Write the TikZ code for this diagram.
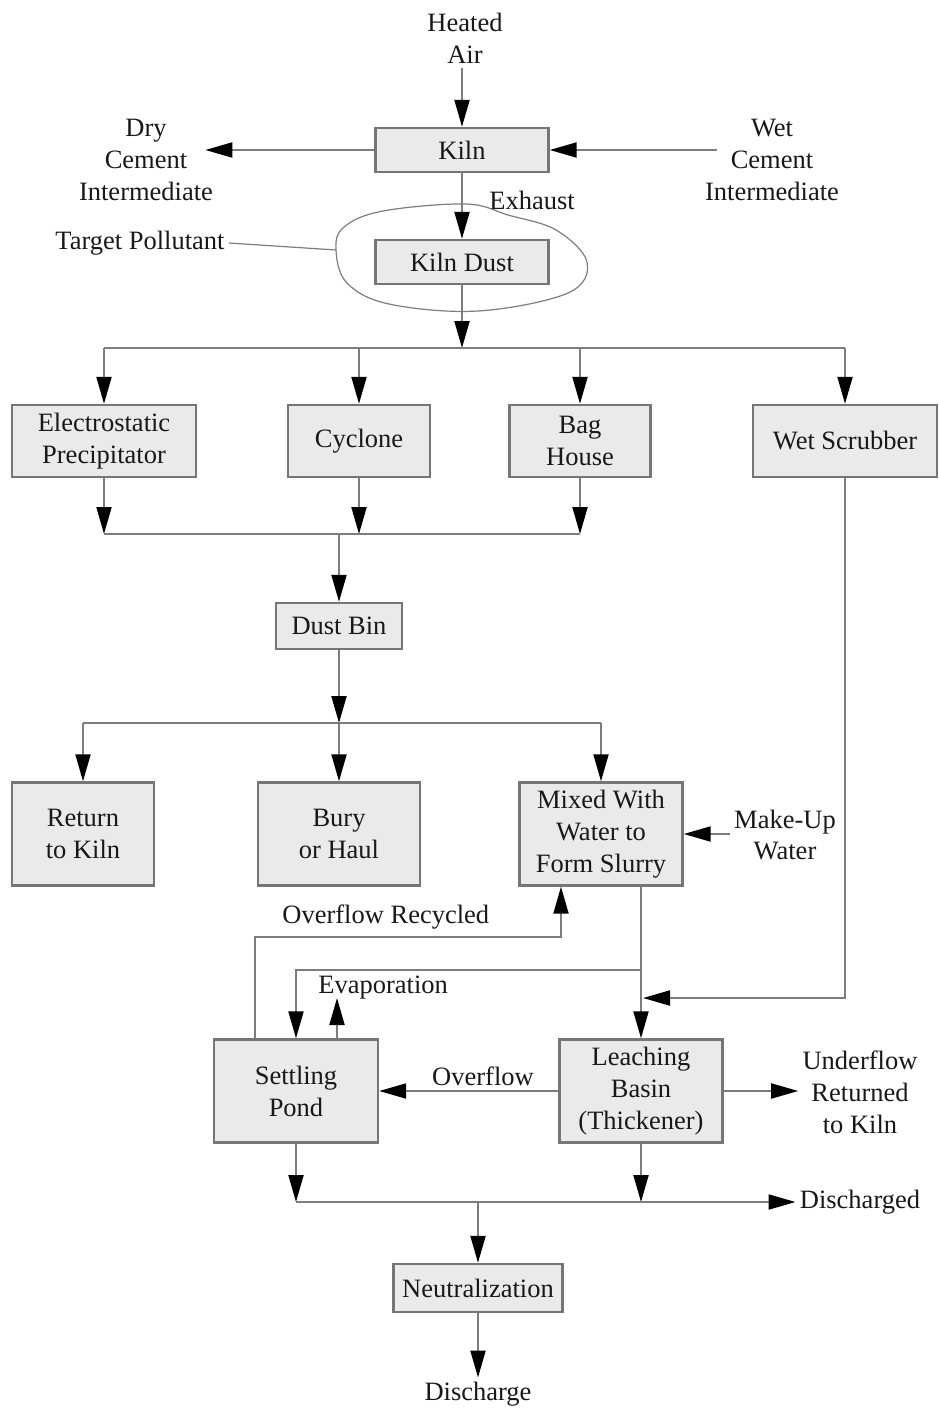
\documentclass[tikz,border=0pt]{standalone}
\usepackage{fontspec}
\setmainfont{Liberation Serif}
\usetikzlibrary{arrows.meta,calc}
\definecolor{linegray}{RGB}{125,125,125}
\definecolor{boxfill}{RGB}{234,234,234}
\definecolor{boxedge}{RGB}{118,118,118}
\definecolor{inkdark}{RGB}{24,24,24}
\begin{document}
\begin{tikzpicture}[x=0.5bp,y=-0.5bp,
  every node/.style={font=\fontsize{13.3}{16}\selectfont, text=inkdark, align=center, inner sep=2bp},
  box/.style 2 args={draw=boxedge, fill=boxfill, line width=1.2bp,
    minimum width={#1*0.5bp}, minimum height={#2*0.5bp}, inner sep=0pt},
  flow/.style={draw=linegray, line width=1bp},
  arr/.style={flow, -{Triangle[length=13.5bp,width=7.5bp,color=black]}},
  thin/.style={draw=linegray, line width=0.6bp}]
\useasboundingbox (0,0) rectangle (938,1412);

% ---- kiln stage
\node (air) at (465,38) {Heated\\Air};
\node[box={173}{44}] (kiln) at (462,150) {Kiln};
\node (dry) at (146,160) {Dry\\Cement\\Intermediate};
\node (wet) at (772,160) {Wet\\Cement\\Intermediate};
\node[box={173}{44}] (dust) at (462,262) {Kiln Dust};
\node[anchor=west] (exh) at (485,200) {Exhaust};
\node (tp) at (140,243) {Target Pollutant};

\draw[arr] (kiln.north |- air.south) -- (kiln.north);
\draw[arr] (kiln.west) -- ([xshift=-6bp]dry.east |- kiln.west);
\draw[arr] ([xshift=8bp]wet.west |- kiln.east) -- (kiln.east);
\draw[arr] (kiln.south) -- (dust.north);

% hand-drawn loop around the dust
\draw[thin] plot[smooth cycle, tension=0.6] coordinates {
  (336,250) (344,227) (383,211) (466,204) (508,215) (556,230) (587,262)
  (568,293) (478,311) (389,304) (347,283)};
\coordinate (lp) at (336,250);
\draw[thin] (tp.east) -- (lp);

% ---- collectors
\coordinate (b1) at (462,348);
\node[box={184}{72}] (esp) at (104,441) {Electrostatic\\Precipitator};
\node[box={142}{72}] (cyc) at (359,441) {Cyclone};
\node[box={141}{72}] (bag) at (580,441) {Bag\\House};
\node[box={184}{72}] (ws)  at (845,441) {Wet Scrubber};

\draw[arr] (dust.south) -- (b1);
\draw[flow] (esp.north |- b1) -- (ws.north |- b1);
\foreach \n in {esp,cyc,bag,ws} \draw[arr] (\n.north |- b1) -- (\n.north);

\coordinate (b2) at (339,534);
\node[box={126}{46}] (bin) at (339,626) {Dust Bin};
\foreach \n in {esp,cyc,bag} \draw[arr] (\n.south) -- (\n.south |- b2);
\draw[flow] (esp.south |- b2) -- (bag.south |- b2);
\draw[arr] (b2) -- (bin.north);

% ---- dust disposal
\coordinate (b3) at (339,723);
\node[box={142}{103}] (ret) at (83,834) {Return\\to Kiln};
\node[box={162}{103}] (bury) at (339,834) {Bury\\or Haul};
\node[box={163}{103}] (mix) at (601,834) {Mixed With\\Water to\\Form Slurry};
\node (mw) at (785,835) {Make-Up\\Water};

\draw[arr] (bin.south) -- (b3);
\draw[flow] (ret.north |- b3) -- (mix.north |- b3);
\foreach \n in {ret,bury,mix} \draw[arr] (\n.north |- b3) -- (\n.north);
\draw[arr] (mw.west |- mix.east) -- (mix.east);

% ---- slurry treatment
\node[box={164}{103}] (pond) at (296,1091) {Settling\\Pond};
\node[box={163}{103}] (leach) at (641,1091) {Leaching\\Basin\\(Thickener)};
\node (uf) at (860,1092) {Underflow\\Returned\\to Kiln};

\coordinate (j1) at (641,970);
\coordinate (j2) at (643,998);
\coordinate (evap) at (337,998);

\draw[arr] ($(pond.north)+(-41,0)$) |- ($(mix.south)+(-40,50)$) -- ($(mix.south)+(-40,0)$);
\node[anchor=west] (orl) at (278,917) {Overflow Recycled};
\draw[arr] ($(mix.south)+(40,0)$) -- (leach.north);
\draw[arr] (j1) -| (pond.north);
\draw[arr] ($(pond.north)+(41,0)$) -- (evap);
\node[anchor=west] (ev) at (314,988) {Evaporation};
\draw[arr] (ws.south) |- (j2);
\draw[arr] (leach.west) -- (pond.east);
\node (ofl) at (483,1076) {Overflow};
\draw[arr] (leach.east) -- (uf.west |- leach.east);

% ---- final discharge
\coordinate (b4) at (478,1202);
\node (dis) at (860,1202) {Discharged};
\node[box={169}{48}] (neut) at (478,1288) {Neutralization};
\node (out) at (478,1394) {Discharge};

\draw[arr] (pond.south) -- (pond.south |- b4);
\draw[arr] (leach.south) -- (leach.south |- b4);
\draw[arr] (pond.south |- b4) -- (dis.west);
\draw[arr] (b4) -- (neut.north);
\draw[arr] (neut.south) -- (out.north);
\end{tikzpicture}
\end{document}
